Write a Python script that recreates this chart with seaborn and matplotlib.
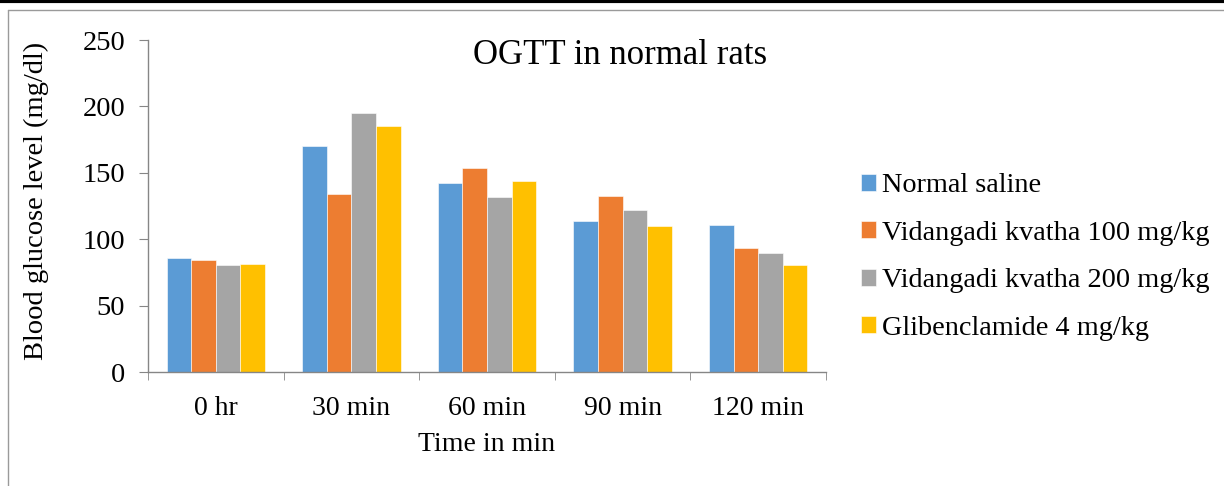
import matplotlib
matplotlib.use("Agg")
import matplotlib.pyplot as plt
from matplotlib.lines import Line2D
import seaborn as sns
import pandas as pd

# Values
times = ["0 hr", "30 min", "60 min", "90 min", "120 min"]
groups = [
    "Normal saline",
    "Vidangadi kvatha 100 mg/kg",
    "Vidangadi kvatha 200 mg/kg",
    "Glibenclamide 4 mg/kg",
]
normal_saline = [85.6, 170.5, 142.4, 113.4, 110.6]
vidangadi_100 = [84.6, 134.3, 153.5, 132.6, 93.4]
vidangadi_200 = [80.3, 195.2, 131.8, 121.7, 89.6]
glibenclamide = [81.6, 185.6, 143.7, 109.8, 80.3]
colors = ["#5B9BD5", "#ED7D31", "#A5A5A5", "#FFC000"]

sns.set_style("white")
plt.rcParams["font.family"] = ["Liberation Serif", "DejaVu Serif"]
plt.rcParams["text.color"] = "black"
plt.rcParams["axes.labelcolor"] = "black"
plt.rcParams["xtick.color"] = "black"
plt.rcParams["ytick.color"] = "black"


def build_frame():
    """
    Long-form table for seaborn.
    """
    rows = []
    for name, vals in zip(groups, [normal_saline, vidangadi_100, vidangadi_200, glibenclamide]):
        for t, v in zip(times, vals):
            rows.append({"time": t, "group": name, "value": v})
    return pd.DataFrame(rows)


def main():
    df = build_frame()
    fig = plt.figure(figsize=(12.24, 4.86), dpi=100)
    ax = fig.add_axes([148 / 1224, 1 - 372 / 486, 678 / 1224, 332 / 486])

    sns.barplot(
        data=df,
        x="time",
        y="value",
        hue="group",
        order=times,
        hue_order=groups,
        palette=colors,
        saturation=1,
        width=0.727,
        edgecolor="white",
        linewidth=0.4,
        ax=ax,
        legend=True,
    )

    ax.set_ylim(0, 250)
    ax.set_xlim(-0.5, 4.5)
    ax.set_yticks([0, 50, 100, 150, 200, 250])

    gray = "#868686"
    for side in ["top", "right"]:
        ax.spines[side].set_visible(False)
    for side in ["left", "bottom"]:
        ax.spines[side].set_color(gray)
        ax.spines[side].set_linewidth(1.0)

    ax.tick_params(axis="y", direction="out", length=6.5, color=gray, labelcolor="black",
                   labelsize=20.5, pad=10, left=True)
    ax.tick_params(axis="x", which="major", length=0, labelsize=20, pad=17, labelcolor="black")
    ax.set_xticks([-0.5, 0.5, 1.5, 2.5, 3.5, 4.5], minor=True)
    ax.tick_params(axis="x", which="minor", direction="out", length=6, color=gray, bottom=True)

    ax.set_xlabel("Time in min", fontsize=20, labelpad=8)
    ax.set_ylabel("Blood glucose level (mg/dl)", fontsize=20.5, labelpad=24, y=0.515)

    handles, labels = ax.get_legend_handles_labels()
    ax.get_legend().remove()
    fig.legend(
        handles,
        labels,
        loc="center left",
        bbox_to_anchor=(861 / 1224, 1 - 257 / 486),
        frameon=False,
        fontsize=20.3,
        handlelength=0.54,
        handleheight=0.54,
        handletextpad=0.2,
        labelspacing=0.8,
        borderpad=0,
        borderaxespad=0,
    )

    fig.text(620 / 1224, 1 - 56 / 486, "OGTT in normal rats", fontsize=25, ha="center", va="center")

    # outer frame as in the original document crop
    fig.add_artist(Line2D([0, 1], [1 - 1.5 / 486, 1 - 1.5 / 486], color="black", linewidth=3))
    fig.add_artist(Line2D([8 / 1224, 1], [1 - 10 / 486, 1 - 10 / 486], color="#9a9a9a", linewidth=1))
    fig.add_artist(Line2D([8 / 1224, 8 / 1224], [0, 1 - 10 / 486], color="#9a9a9a", linewidth=1))

    fig.savefig("out.png", dpi=100)
    plt.close(fig)


if __name__ == "__main__":
    main()
